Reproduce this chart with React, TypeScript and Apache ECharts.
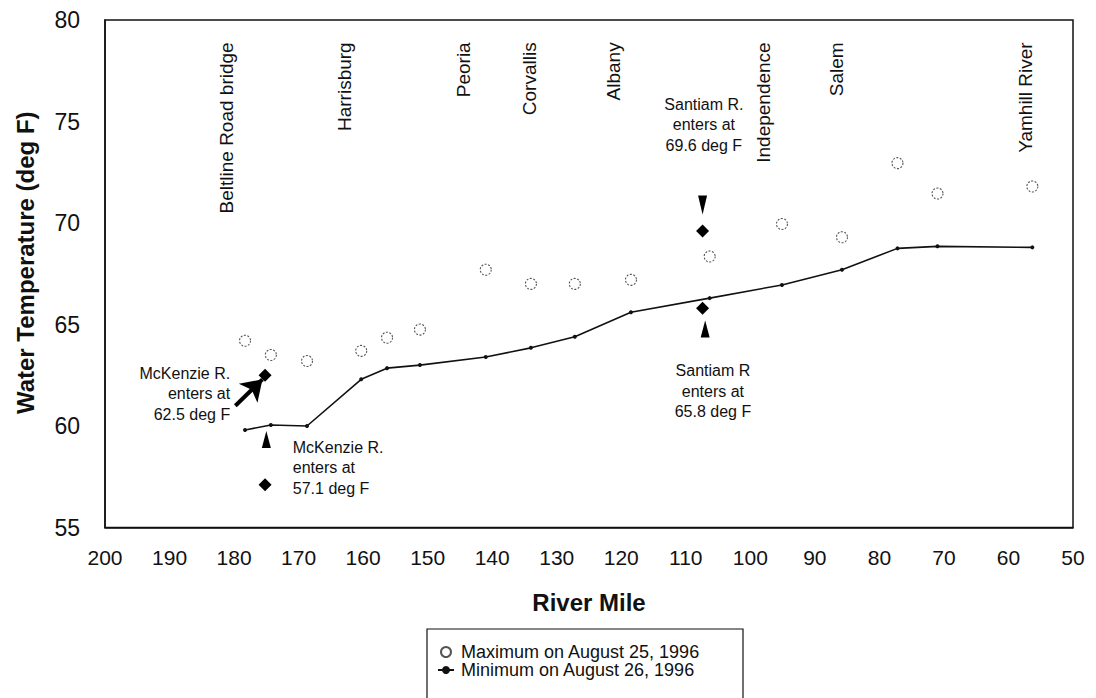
import React, { useEffect, useRef } from "react";
import * as echarts from "echarts";

// River mile of each sampling site
const riverMile = [178.3, 174.3, 168.7, 160.3, 156.3, 151.2, 141, 134, 127.2, 118.5, 106.3, 95.1, 85.8, 77.2, 71, 56.3];
// Maximum temperature on August 25, 1996 (deg F)
const maxTemp = [64.2, 63.5, 63.2, 63.7, 64.35, 64.75, 67.7, 67.0, 67.0, 67.2, 68.35, 69.95, 69.3, 72.95, 71.45, 71.8];
// Minimum temperature on August 26, 1996 (deg F)
const minTemp = [59.8, 60.05, 60.0, 62.3, 62.85, 63.0, 63.4, 63.85, 64.4, 65.6, 66.3, 66.95, 67.7, 68.75, 68.85, 68.8];

// Tributary inflow temperatures
const tributaryMile = [175.2, 175.2, 107.4, 107.4];
const tributaryTemp = [62.5, 57.1, 69.6, 65.8];

// Town / landmark labels
const towns = ["Beltline Road bridge", "Harrisburg", "Peoria", "Corvallis", "Albany", "Independence", "Salem", "Yamhill River"];
const townMile = [181.2, 162.9, 144.4, 134.2, 121.2, 97.9, 86.6, 57.3];
const townTopTemp = 78.9;

// Annotation texts
const notes = [
  "McKenzie R.\nenters at\n62.5 deg F",
  "McKenzie R.\nenters at\n57.1 deg F",
  "Santiam R.\nenters at\n69.6 deg F",
  "Santiam R\nenters at\n65.8 deg F",
];
const noteMile = [180.6, 170.9, 107.2, 105.8];
const noteTemp = [61.6, 57.94, 74.83, 61.72];
const noteAlign = ["right", "left", "center", "center"];

// Pointer arrows (up / down triangles)
const upArrowMile = [175.0, 107.0];
const upArrowTemp = [59.33, 64.78];
const downArrowMile = [107.4];
const downArrowTemp = [70.89];
// diagonal arrow to McKenzie 62.5 diamond: [tail, tip]
const diagArrow = [[179.8, 61.0], [175.6, 62.3]];

const yTicks = [55, 60, 65, 70, 75, 80];
const FONT = "Liberation Sans, Arial, sans-serif";

const MAX_NAME = "Maximum on August 25, 1996";
const MIN_NAME = "Minimum on August 26, 1996";

export default function App() {
  const ref = useRef<HTMLDivElement>(null);
  useEffect(() => {
    if (!ref.current) return;
    const chart = echarts.init(ref.current, null, { renderer: "svg" });
    const option: any = {
      animation: false,
      backgroundColor: "#fff",
      textStyle: { fontFamily: FONT },
      grid: {
        left: 105,
        right: 23,
        top: 20,
        bottom: 170.5,
        show: true,
        borderColor: "#111",
        borderWidth: 1.5,
        backgroundColor: "transparent",
      },
      xAxis: {
        type: "value",
        inverse: true,
        min: 50,
        max: 200,
        interval: 10,
        name: "River Mile",
        nameLocation: "middle",
        nameGap: 63,
        nameTextStyle: { fontSize: 24, fontWeight: "bold", color: "#111", fontFamily: FONT },
        axisLine: { show: true, lineStyle: { color: "#111", width: 1.5 } },
        axisTick: { show: false },
        splitLine: { show: false },
        axisLabel: { fontSize: 21, color: "#111", margin: 19, fontFamily: FONT },
      },
      yAxis: {
        type: "value",
        min: yTicks[0],
        max: yTicks[yTicks.length - 1],
        interval: 5,
        name: "Water Temperature (deg F)",
        nameLocation: "middle",
        nameGap: 68,
        nameTextStyle: { fontSize: 24, fontWeight: "bold", color: "#111", fontFamily: FONT, padding: [0, 0, 0, 22] },
        axisLine: { show: true, lineStyle: { color: "#111", width: 1.5 } },
        axisTick: { show: false },
        splitLine: { show: false },
        axisLabel: { fontSize: 23, color: "#111", margin: 25, fontFamily: FONT },
      },
      legend: {
        data: [MAX_NAME, MIN_NAME],
        orient: "vertical",
        left: 437,
        top: 643,
        padding: 0,
        itemGap: 0,
        itemWidth: 16,
        itemHeight: 10,
        textStyle: { fontSize: 18, color: "#111", fontFamily: FONT, padding: [0, 0, 0, 2] },
      },
      series: [
        {
          name: MAX_NAME,
          type: "scatter",
          data: riverMile.map((m, i) => [m, maxTemp[i]]),
          symbol: "circle",
          symbolSize: 11,
          itemStyle: { color: "#fff", borderColor: "#555", borderWidth: 1.1, borderType: [2, 1.5], opacity: 1 },
          z: 3,
        },
        {
          name: MIN_NAME,
          type: "line",
          data: riverMile.map((m, i) => [m, minTemp[i]]),
          symbol: "circle",
          symbolSize: 4,
          showSymbol: true,
          lineStyle: { color: "#111", width: 1.6 },
          itemStyle: { color: "#111" },
          z: 3,
        },
        {
          name: "Tributary",
          type: "scatter",
          data: tributaryMile.map((m, i) => [m, tributaryTemp[i]]),
          symbol: "diamond",
          symbolSize: 13,
          itemStyle: { color: "#000", opacity: 1 },
          z: 4,
        },
        {
          name: "UpArrow",
          type: "scatter",
          data: upArrowMile.map((m, i) => [m, upArrowTemp[i]]),
          symbol: "triangle",
          symbolSize: [9, 17],
          itemStyle: { color: "#000", opacity: 1 },
          z: 4,
        },
        {
          name: "DownArrow",
          type: "scatter",
          data: downArrowMile.map((m, i) => [m, downArrowTemp[i]]),
          symbol: "triangle",
          symbolRotate: 180,
          symbolSize: [9, 19],
          itemStyle: { color: "#000", opacity: 1 },
          z: 4,
        },
        {
          name: "DiagArrow",
          type: "lines",
          coordinateSystem: "cartesian2d",
          data: [{ coords: diagArrow }],
          symbol: ["none", "arrow"],
          symbolSize: 20,
          lineStyle: { color: "#000", width: 4, opacity: 1 },
          z: 4,
        },
      ],
    };
    chart.setOption(option);

    const graphics: any[] = [];
    towns.forEach((t, i) => {
      const p = chart.convertToPixel({ gridIndex: 0 }, [townMile[i], townTopTemp]) as number[];
      graphics.push({
        type: "text",
        x: p[0],
        y: p[1],
        rotation: Math.PI / 2,
        style: {
          text: t,
          font: `19px ${FONT}`,
          fill: "#111",
          align: "right",
          verticalAlign: "middle",
        },
        z: 10,
      });
    });
    notes.forEach((t, i) => {
      const p = chart.convertToPixel({ gridIndex: 0 }, [noteMile[i], noteTemp[i]]) as number[];
      graphics.push({
        type: "text",
        x: p[0],
        y: p[1],
        style: {
          text: t,
          font: `16px ${FONT}`,
          fill: "#111",
          align: noteAlign[i],
          verticalAlign: "middle",
          lineHeight: 20.5,
        },
        z: 10,
      });
    });
    // legend frame
    graphics.push({
      type: "rect",
      shape: { x: 427, y: 629, width: 316, height: 90 },
      style: { fill: "none", stroke: "#111", lineWidth: 1.2 },
      z: 1,
    });
    chart.setOption({ graphic: graphics });

    return () => chart.dispose();
  }, []);
  return (
    <div
      ref={ref}
      style={{ position: "fixed", left: 0, top: 0, width: 1096, height: 698, background: "#fff" }}
    />
  );
}
